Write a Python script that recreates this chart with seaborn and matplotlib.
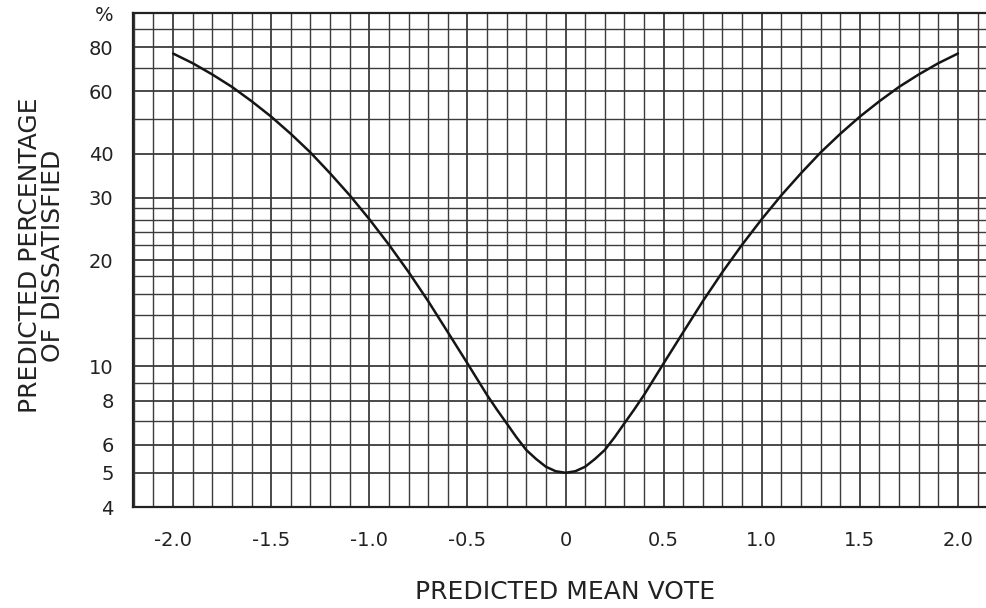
import matplotlib
matplotlib.use("Agg")
import matplotlib.pyplot as plt
import matplotlib.ticker as mticker
import seaborn as sns
import pandas as pd

# PMV / PPD curve
pmv = [-2.0, -1.9, -1.8, -1.7, -1.6, -1.5, -1.4, -1.3, -1.2, -1.1, -1.0,
       -0.9, -0.8, -0.7, -0.6, -0.5, -0.4, -0.35, -0.3, -0.25, -0.2, -0.15,
       -0.1, -0.05, 0.0, 0.05, 0.1, 0.15, 0.2, 0.25, 0.3, 0.35, 0.4, 0.5,
       0.6, 0.7, 0.8, 0.9, 1.0, 1.1, 1.2, 1.3, 1.4, 1.5, 1.6, 1.7, 1.8,
       1.9, 2.0]
ppd = [76.8, 72.1, 67.0, 61.8, 56.3, 50.9, 45.5, 40.3, 35.2, 30.5, 26.1,
       22.1, 18.5, 15.3, 12.5, 10.2, 8.3, 7.55, 6.9, 6.3, 5.8, 5.47,
       5.2, 5.05, 5.0, 5.05, 5.2, 5.47, 5.8, 6.3, 6.9, 7.55, 8.3, 10.2,
       12.5, 15.3, 18.5, 22.1, 26.1, 30.5, 35.2, 40.3, 45.5, 50.9, 56.3,
       61.8, 67.0, 72.1, 76.8]

x_ticks = [-2.0, -1.5, -1.0, -0.5, 0.0, 0.5, 1.0, 1.5, 2.0]
x_ticklabels = ["-2.0", "-1.5", "-1.0", "-0.5", "0", "0.5", "1.0", "1.5", "2.0"]
x_minor = [round(-2.2 + 0.1 * i, 1) for i in range(44)]
y_ticks = [4, 5, 6, 8, 10, 20, 30, 40, 60, 80, 100]
y_ticklabels = ["4", "5", "6", "8", "10", "20", "30", "40", "60", "80", "%"]
y_minor = [7, 9, 12, 14, 16, 18, 22, 24, 26, 28, 50, 70, 90]

df = pd.DataFrame({"pmv": pmv, "ppd": ppd})

sns.set_style("white")
plt.rcParams["font.family"] = ["DejaVu Sans"]

fig = plt.figure(figsize=(9.87, 6.08), dpi=100)
ax = fig.add_axes([0.1348, 0.1661, 1.0 - 0.1348, 0.8125])

grid_col = "#3c3c3c"
sns.lineplot(data=df, x="pmv", y="ppd", ax=ax, color="#151515", linewidth=1.8,
             zorder=5)

ax.set_yscale("log")
ax.set_xlim(-2.204, 2.148)
ax.set_ylim(4, 100)

ax.set_xticks(x_ticks)
ax.set_xticklabels(x_ticklabels)
ax.set_xticks(x_minor, minor=True)
ax.set_yticks(y_ticks)
ax.set_yticklabels(y_ticklabels)
ax.set_yticks(y_minor, minor=True)
ax.yaxis.set_minor_formatter(mticker.NullFormatter())

ax.grid(True, which="major", color=grid_col, linewidth=1.3)
ax.grid(True, which="minor", color=grid_col, linewidth=1.0)

ax.tick_params(axis="x", which="major", direction="out", length=8, width=1.2,
               color=grid_col, labelsize=14, pad=9, labelcolor="#222222")
ax.tick_params(axis="y", which="major", direction="out", length=5, width=1.2,
               color=grid_col, labelsize=14, pad=9, labelcolor="#222222")
ax.tick_params(which="minor", length=0)

for side in ["left", "top", "bottom"]:
    ax.spines[side].set_color("#222222")
    ax.spines[side].set_linewidth(1.6)
ax.spines["right"].set_visible(False)

ax.set_xlabel("")
ax.set_ylabel("")
fig.text(0.572, 0.026, "PREDICTED MEAN VOTE", ha="center", va="center",
         fontsize=18, color="#222222")
fig.text(0.042, 0.58, "PREDICTED PERCENTAGE\nOF DISSATISFIED", ha="center",
         va="center", rotation=90, fontsize=18, color="#222222",
         linespacing=0.95, multialignment="center")

fig.savefig("out.png", dpi=100)
